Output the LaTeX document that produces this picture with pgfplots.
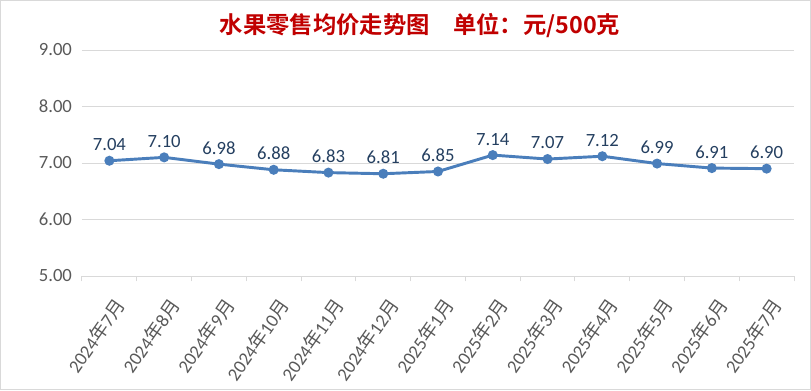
\documentclass[border=0pt]{standalone}
\usepackage{fontspec}
\setmainfont{Carlito}
\newfontfamily\cjk{Noto Sans CJK SC}
\newfontfamily\cjkb{Noto Sans CJK SC Bold}
\usepackage{pgfplots}
\pgfplotsset{compat=1.18}
\definecolor{linec}{HTML}{4A7EBB}
\definecolor{lblc}{HTML}{243F60}
\definecolor{tickc}{HTML}{595959}
\definecolor{gridc}{HTML}{D9D9D9}
\definecolor{titc}{HTML}{C00000}
\newcommand{\ym}[2]{#1{\cjk 年}#2{\cjk 月}}
\begin{document}
\begin{tikzpicture}[x=1pt,y=1pt]
\begin{axis}[
  scale only axis,
  width=534pt, height=169.5pt,
  xmin=-0.5, xmax=12.5, ymin=5, ymax=9,
  ytick={5,6,7,8,9},
  yticklabel style={/pgf/number format/fixed,/pgf/number format/fixed zerofill,/pgf/number format/precision=2, font=\fontsize{14}{16}\selectfont, text=tickc},
  /pgf/number format/assume math mode=true,
  ymajorgrids, grid style={gridc, line width=0.75pt},
  axis y line=left, y axis line style={draw=none},
  axis x line*=bottom, x axis line style={gridc, line width=0.75pt},
  xtick={0,...,12},
  xticklabels={\ym{2024}{7},\ym{2024}{8},\ym{2024}{9},\ym{2024}{10},\ym{2024}{11},\ym{2024}{12},\ym{2025}{1},\ym{2025}{2},\ym{2025}{3},\ym{2025}{4},\ym{2025}{5},\ym{2025}{6},\ym{2025}{7}},
  xticklabel style={xshift=9pt, yshift=-18pt, rotate=55, anchor=east, inner sep=1pt, font=\fontsize{14}{16}\selectfont, text=tickc},
  major tick length=0pt,
  minor xtick={-0.5,0.5,...,12.5},
  minor tick length=4pt,
  tick align=outside,
  minor tick style={gridc, line width=0.75pt},
  ytick style={draw=none},
  yticklabel shift=4pt,
  clip=false,
]
\addplot[linec, line width=2.2pt, mark=*, mark size=2.6pt, mark options={fill=linec, draw=linec},
  nodes near coords, point meta=explicit,
  every node near coord/.style={font=\fontsize{14}{16}\selectfont, text=lblc, anchor=south, yshift=3pt,
    /pgf/number format/fixed,/pgf/number format/fixed zerofill,/pgf/number format/precision=2,/pgf/number format/assume math mode=true}]
coordinates {
(0,7.04)[7.04] (1,7.10)[7.10] (2,6.98)[6.98] (3,6.88)[6.88] (4,6.83)[6.83] (5,6.81)[6.81] (6,6.85)[6.85]
(7,7.14)[7.14] (8,7.07)[7.07] (9,7.12)[7.12] (10,6.99)[6.99] (11,6.91)[6.91] (12,6.90)[6.90]
};
\end{axis}
\draw[gridc, line width=0.75pt] ([xshift=-61.125pt, yshift=206.625pt]current axis.south west) rectangle ([xshift=546.375pt, yshift=-85.125pt]current axis.south west);
\node[text=titc, font=\cjkb\fontsize{17.5}{20}\selectfont] at ([xshift=253.5pt, yshift=188pt]current axis.south west) {水果零售均价走势图\quad 单位：元/500克};
\end{tikzpicture}
\end{document}
